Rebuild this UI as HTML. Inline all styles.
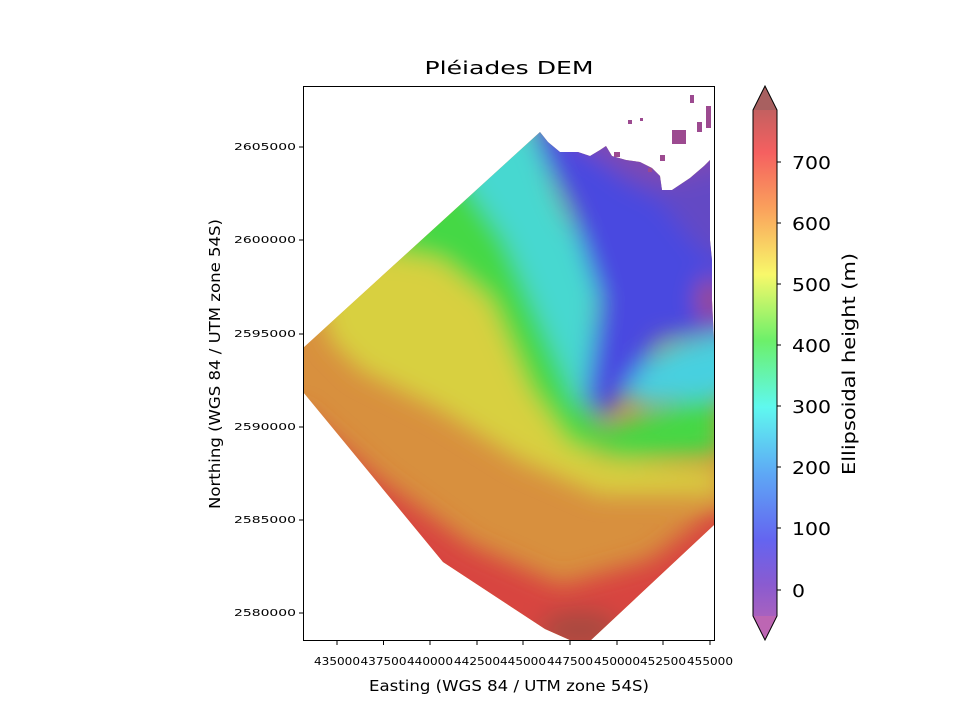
<!DOCTYPE html>
<html><head><style>
html,body{margin:0;padding:0;background:#fff;}
svg{display:block;font-family:"DejaVu Sans","Liberation Sans",sans-serif;}
</style></head><body>
<svg width="960" height="720" viewBox="0 0 960 720" xmlns="http://www.w3.org/2000/svg">
<defs>
<clipPath id="dem"><polygon points="303,348 540,132 548,142 560,152 578,152 590,156 600,150 606,146 612,156 626,160 640,162 652,168 660,176 662,190 672,190 690,178 704,166 710,160 710,240 712,260 712,300 714,340 714,525 590,641 572,641 545,629 443,562 303,392"/></clipPath>
<filter id="b" x="-30%" y="-30%" width="160%" height="160%"><feGaussianBlur stdDeviation="12"/></filter>
<linearGradient id="cb" x1="0" y1="1" x2="0" y2="0">
<stop offset="0" stop-color="#bd66b3"/>
<stop offset="0.1" stop-color="#8a5bd0"/>
<stop offset="0.18" stop-color="#6464f0"/>
<stop offset="0.3" stop-color="#5ea8f5"/>
<stop offset="0.42" stop-color="#5ff8ef"/>
<stop offset="0.54" stop-color="#6cf06a"/>
<stop offset="0.66" stop-color="#f8f86a"/>
<stop offset="0.78" stop-color="#faa05c"/>
<stop offset="0.88" stop-color="#f56060"/>
<stop offset="1" stop-color="#a86060"/>
</linearGradient>
</defs>
<text x="509" y="74" font-size="18" text-anchor="middle" textLength="169" lengthAdjust="spacingAndGlyphs">Pléiades DEM</text>
<g clip-path="url(#dem)">
<rect x="280" y="60" width="460" height="620" fill="#d8903e"/>
<g filter="url(#b)">
<polygon points="300,410 380,480 470,545 560,585 650,560 720,505 780,560 780,720 260,720 260,420" fill="#d84440"/>
<ellipse cx="580" cy="630" rx="40" ry="20" fill="#a84840"/>
<polygon points="320,300 430,200 470,250 530,350 560,430 600,460 720,470 720,495 600,495 520,460 440,410 360,370 330,340" fill="#d8d040"/>
<polygon points="380,250 430,200 470,160 520,260 570,370 600,430 720,390 720,455 620,460 570,445 530,390 490,300 440,260" fill="#44d844"/>
<polygon points="440,150 520,100 560,200 600,280 590,380 580,410 540,320 505,240 470,190" fill="#46d8d0"/>
<polygon points="615,385 670,345 740,330 740,395 640,405" fill="#46d0e0"/>
<polygon points="530,100 740,100 740,330 660,340 605,420 585,400 600,300 570,210 540,150" fill="#4848e0"/>
<polygon points="570,120 740,110 740,270 700,250 660,200 620,180" fill="#6448c4"/>
<polygon points="540,120 740,100 740,160 660,185 600,160" fill="#8048b0"/>
<ellipse cx="710" cy="300" rx="12" ry="22" fill="#a84870"/>
</g>
</g>
<g fill="#9c4a90">
<rect x="672" y="130" width="14" height="14"/><rect x="690" y="95" width="4" height="8"/><rect x="706" y="106" width="5" height="22"/><rect x="628" y="120" width="4" height="4"/><rect x="660" y="155" width="5" height="6"/><rect x="697" y="122" width="5" height="10"/><rect x="640" y="118" width="3" height="3"/><rect x="648" y="168" width="4" height="4"/><rect x="614" y="152" width="6" height="5"/>
</g>
<rect x="303.5" y="86.5" width="411" height="554" fill="none" stroke="#000" stroke-width="1"/>
<g stroke="#000" stroke-width="1">
<line x1="337" y1="641" x2="337" y2="645"/><line x1="383.5" y1="641" x2="383.5" y2="645"/><line x1="430" y1="641" x2="430" y2="645"/><line x1="477" y1="641" x2="477" y2="645"/><line x1="523" y1="641" x2="523" y2="645"/><line x1="570" y1="641" x2="570" y2="645"/><line x1="617" y1="641" x2="617" y2="645"/><line x1="663" y1="641" x2="663" y2="645"/><line x1="710" y1="641" x2="710" y2="645"/>
<line x1="299" y1="147" x2="303" y2="147"/><line x1="299" y1="240" x2="303" y2="240"/><line x1="299" y1="334" x2="303" y2="334"/><line x1="299" y1="427" x2="303" y2="427"/><line x1="299" y1="520" x2="303" y2="520"/><line x1="299" y1="613" x2="303" y2="613"/>
</g>
<g font-size="11" text-anchor="middle">
<text x="337" y="665" textLength="46" lengthAdjust="spacingAndGlyphs">435000</text><text x="383.5" y="665" textLength="46" lengthAdjust="spacingAndGlyphs">437500</text><text x="430" y="665" textLength="46" lengthAdjust="spacingAndGlyphs">440000</text><text x="477" y="665" textLength="46" lengthAdjust="spacingAndGlyphs">442500</text><text x="523" y="665" textLength="46" lengthAdjust="spacingAndGlyphs">445000</text><text x="570" y="665" textLength="46" lengthAdjust="spacingAndGlyphs">447500</text><text x="617" y="665" textLength="46" lengthAdjust="spacingAndGlyphs">450000</text><text x="663" y="665" textLength="46" lengthAdjust="spacingAndGlyphs">452500</text><text x="710" y="665" textLength="46" lengthAdjust="spacingAndGlyphs">455000</text>
</g>
<g font-size="10" text-anchor="end">
<text x="296" y="150" textLength="62" lengthAdjust="spacingAndGlyphs">2605000</text><text x="296" y="243" textLength="62" lengthAdjust="spacingAndGlyphs">2600000</text><text x="296" y="337" textLength="62" lengthAdjust="spacingAndGlyphs">2595000</text><text x="296" y="430" textLength="62" lengthAdjust="spacingAndGlyphs">2590000</text><text x="296" y="523" textLength="62" lengthAdjust="spacingAndGlyphs">2585000</text><text x="296" y="616" textLength="62" lengthAdjust="spacingAndGlyphs">2580000</text>
</g>
<text x="509" y="691" font-size="15" text-anchor="middle" textLength="280" lengthAdjust="spacingAndGlyphs">Easting (WGS 84 / UTM zone 54S)</text>
<text transform="translate(220,364) rotate(-90)" font-size="15" text-anchor="middle" textLength="290" lengthAdjust="spacingAndGlyphs">Northing (WGS 84 / UTM zone 54S)</text>
<polygon points="753,110 765,86 777,110 777,616 765,640 753,616" fill="url(#cb)"/>
<polygon points="753,110 765,86 777,110" fill="#a86060"/>
<polygon points="753,616 765,640 777,616" fill="#bd66b3"/>
<polygon points="753,110 765,86 777,110 777,616 765,640 753,616" fill="none" stroke="#000" stroke-width="1"/>
<g stroke="#000"><line x1="777" y1="162" x2="781" y2="162"/><line x1="777" y1="223" x2="781" y2="223"/><line x1="777" y1="284" x2="781" y2="284"/><line x1="777" y1="345" x2="781" y2="345"/><line x1="777" y1="406" x2="781" y2="406"/><line x1="777" y1="467" x2="781" y2="467"/><line x1="777" y1="528" x2="781" y2="528"/><line x1="777" y1="590" x2="781" y2="590"/></g>
<g font-size="18"><text x="792" y="169" textLength="39" lengthAdjust="spacingAndGlyphs">700</text><text x="792" y="230" textLength="39" lengthAdjust="spacingAndGlyphs">600</text><text x="792" y="291" textLength="39" lengthAdjust="spacingAndGlyphs">500</text><text x="792" y="352" textLength="39" lengthAdjust="spacingAndGlyphs">400</text><text x="792" y="413" textLength="39" lengthAdjust="spacingAndGlyphs">300</text><text x="792" y="474" textLength="39" lengthAdjust="spacingAndGlyphs">200</text><text x="792" y="535" textLength="39" lengthAdjust="spacingAndGlyphs">100</text><text x="792" y="597" textLength="13" lengthAdjust="spacingAndGlyphs">0</text></g>
<text transform="translate(855,364) rotate(-90)" font-size="18" text-anchor="middle" textLength="222" lengthAdjust="spacingAndGlyphs">Ellipsoidal height (m)</text>
</svg>
</body></html>
